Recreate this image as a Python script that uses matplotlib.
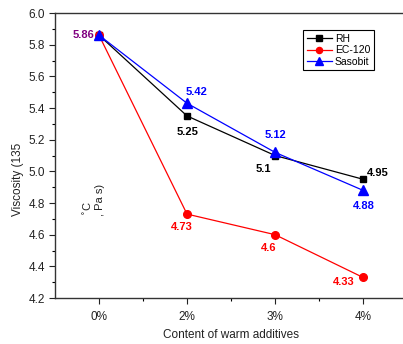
import numpy as np
import matplotlib.pyplot as plt

plt.rcParams['font.family'] = ['Liberation Sans', 'DejaVu Sans']

content = ['0%', '2%', '3%', '4%']
rh = [5.86, 5.35, 5.10, 4.95]
ec120 = [5.86, 4.73, 4.60, 4.33]
sasobit = [5.86, 5.43, 5.12, 4.88]

# value labels as printed on the chart
rh_txt = ['', '5.25', '5.1', '4.95']
ec_txt = ['', '4.73', '4.6', '4.33']
sas_txt = ['', '5.42', '5.12', '4.88']

x = np.arange(len(content))

fig = plt.figure(figsize=(4.03, 3.44), dpi=100)
ax = fig.add_axes([55/403, 46/344, 352/403, 285/344])

ax.plot(x, rh, color='black', lw=0.9, marker='s', ms=5, label='RH')
ax.plot(x, ec120, color='red', lw=0.9, marker='o', ms=5.5, label='EC-120')
ax.plot(x, sasobit, color='blue', lw=0.9, marker='^', ms=7, label='Sasobit')

kw = dict(textcoords='offset pixels', fontsize=8, fontweight='bold', ha='center', va='center')
ax.annotate('5.86', (x[0], rh[0]), xytext=(-16, 0), color='purple', **kw)

rh_off = [None, (1, -16), (-12, -13), (15, 6)]
ec_off = [None, (-5, -13), (-6, -13), (-19, -5)]
sas_off = [None, (10, 11), (0, 17), (1, -16)]
for i in range(1, len(x)):
    ax.annotate(rh_txt[i], (x[i], rh[i]), xytext=rh_off[i], color='black', **kw)
    ax.annotate(ec_txt[i], (x[i], ec120[i]), xytext=ec_off[i], color='red', **kw)
    ax.annotate(sas_txt[i], (x[i], sasobit[i]), xytext=sas_off[i], color='blue', **kw)

ax.set_xlim(-0.5, 3.5)
ax.set_ylim(4.2, 6.0)
ax.set_xticks(x)
ax.set_xticklabels(content)
ax.set_xticks(x[:-1] + 0.5, minor=True)
ax.set_yticks(np.arange(4.2, 6.01, 0.2))
ax.set_yticks(np.arange(4.3, 6.0, 0.2), minor=True)
ax.yaxis.set_major_formatter(plt.FormatStrFormatter('%.1f'))
ax.tick_params(which='major', direction='out', length=4, width=0.8, labelsize=8.5, colors='#222222', pad=3)
ax.tick_params(which='minor', direction='out', length=2.5, width=0.8)
ax.tick_params(axis='x', which='major', pad=5)

for s in ['left', 'bottom', 'top']:
    ax.spines[s].set_linewidth(1.0)
    ax.spines[s].set_color('#333333')
ax.spines['right'].set_visible(False)

ax.set_xlabel('Content of warm additives', fontsize=8.5, color='#222222', labelpad=5)
fig.text(18/403, 1 - 179/344, 'Viscosity (135', rotation=90, ha='center', va='center',
         fontsize=8.5, color='#222222')
fig.text(88/403, 1 - 216/344, '$^{\\circ}$C', rotation=90, ha='center', va='bottom',
         fontsize=8, color='#222222')
fig.text(100/403, 1 - 216/344, ', Pa s)', rotation=90, ha='center', va='bottom',
         fontsize=8, color='#222222')

leg = ax.legend(loc='upper left', bbox_to_anchor=(248/352, 1 - 17/285), fontsize=7.5,
                fancybox=False, edgecolor='black', framealpha=1, handlelength=2.4,
                handletextpad=0.3, borderpad=0.35, labelspacing=0.15, markerscale=0.8,
                borderaxespad=0)
leg.get_frame().set_linewidth(0.8)

fig.savefig('out.png', dpi=100)
